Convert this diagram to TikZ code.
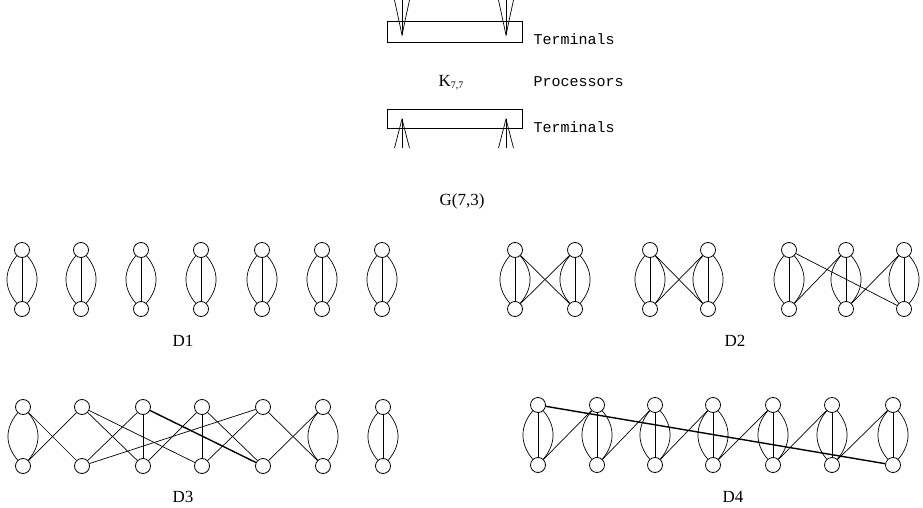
\documentclass[tikz,border=0pt]{standalone}
\usepackage{fontspec}
\setmainfont{Liberation Serif}
\setmonofont{Liberation Mono}
\newcommand\larc[2]{\draw[edge] (#1.228) .. controls +(-13,15) and +(-13,-15) .. (#2.132);}
\newcommand\rarc[2]{\draw[edge] (#1.312) .. controls +(13,15) and +(13,-15) .. (#2.48);}
\newcommand\vedge[2]{\draw[edge] (#1) -- (#2);}
\newcommand\triple[2]{\larc{#1}{#2}\rarc{#1}{#2}\vedge{#1}{#2}}
\begin{document}
\begin{tikzpicture}[x=1pt,y=-1pt,
  vtx/.style={circle,draw,line width=0.8pt,minimum size=15pt,inner sep=0pt},
  edge/.style={line width=0.7pt},
  heavy/.style={line width=1.4pt},
  tbox/.style={draw,line width=0.8pt,minimum width=135pt,inner sep=0pt},
  lbl/.style={font=\fontsize{17}{17}\selectfont,anchor=base},
  tt/.style={font=\ttfamily\fontsize{15}{15}\selectfont,anchor=base west}]
\useasboundingbox (0,0) rectangle (923,508);

% ---- top: K_{7,7} ----
\node[tbox,minimum height=21pt] (box1) at (454.5,31.5) {};
\node[tbox,minimum height=19pt] (box2) at (454.5,118.5) {};
\foreach \n/\x in {1/402,2/506}{
  \coordinate (ta\n) at (\x,0);
  \coordinate (tl\n) at (\x-7.5,0);
  \coordinate (tr\n) at (\x+7.5,0);
  \coordinate (tip\n) at (\x,35);
  \draw[edge] (ta\n) -- (tip\n);
  \draw[edge] (tl\n) -- (tip\n) -- (tr\n);
  \coordinate (ba\n) at (\x,148);
  \coordinate (bl\n) at (\x-7.5,148);
  \coordinate (br\n) at (\x+7.5,148);
  \coordinate (btip\n) at (\x,119);
  \draw[edge] (ba\n) -- (btip\n);
  \draw[edge] (bl\n) -- (btip\n) -- (br\n);
}
\node[tt] (term1) at (530,45) {Terminals};
\node[tt] (proc) at (530,87) {Processors};
\node[tt] (term2) at (530,132) {Terminals};
\node[lbl] (k77) at (451,87) {K{\fontsize{10}{10}\selectfont\raisebox{-0.35ex}{7,7}}};
\node[lbl] (g73) at (462,205) {G(7,3)};

% ---- D1 ----
\foreach \i/\x in {1/22,2/81,3/141,4/201,5/262,6/322,7/382}{
  \node[vtx] (at\i) at (\x,250) {};
  \node[vtx] (ab\i) at (\x,309) {};
  \triple{at\i}{ab\i}
}
\node[lbl] (d1) at (183,346) {D1};

% ---- D2 ----
\foreach \i/\x in {1/515,2/575,3/650,4/708,5/789,6/846,7/904}{
  \node[vtx] (bt\i) at (\x,250) {};
  \node[vtx] (bb\i) at (\x,309) {};
  \triple{bt\i}{bb\i}
}
\draw[edge] (bt1) -- (bb2);
\draw[edge] (bb1) -- (bt2);
\draw[edge] (bt3) -- (bb4);
\draw[edge] (bb3) -- (bt4);
\draw[edge] (bt5) -- (bb7);
\draw[edge] (bb5) -- (bt6);
\draw[edge] (bb6) -- (bt7);
\node[lbl] (d2) at (735,346) {D2};

% ---- D3 ----
\foreach \i/\x in {1/23,2/82,3/143,4/202,5/263,6/323,7/383}{
  \node[vtx] (ct\i) at (\x,407) {};
  \node[vtx] (cb\i) at (\x,466) {};
}
\larc{ct1}{cb1}\rarc{ct1}{cb1}
\larc{ct6}{cb6}\rarc{ct6}{cb6}
\triple{ct7}{cb7}
\vedge{ct3}{cb3}
\vedge{ct4}{cb4}
\draw[edge] (ct1) -- (cb2);
\draw[edge] (cb1) -- (ct2);
\draw[edge] (ct2) -- (cb3);
\draw[edge] (ct2) -- (cb4);
\draw[edge] (cb2) -- (ct3);
\draw[edge] (cb2) -- (ct5);
\draw[heavy] (ct3) -- (cb5);
\draw[edge] (cb3) -- (ct4);
\draw[edge] (ct4) -- (cb5);
\draw[edge] (cb4) -- (ct5);
\draw[edge] (ct5) -- (cb6);
\draw[edge] (cb5) -- (ct6);
\node[lbl] (d3) at (183,502) {D3};

% ---- D4 ----
\foreach \i/\x in {1/538,2/597,3/655,4/713,5/773,6/832,7/893}{
  \node[vtx] (dt\i) at (\x,405) {};
  \node[vtx] (db\i) at (\x,465) {};
  \triple{dt\i}{db\i}
}
\foreach \i/\j in {1/2,2/3,3/4,4/5,5/6,6/7}{
  \draw[edge] (db\i) -- (dt\j);
}
\draw[heavy] (dt1) -- (db7);
\node[lbl] (d4) at (733,502) {D4};
\end{tikzpicture}
\end{document}
